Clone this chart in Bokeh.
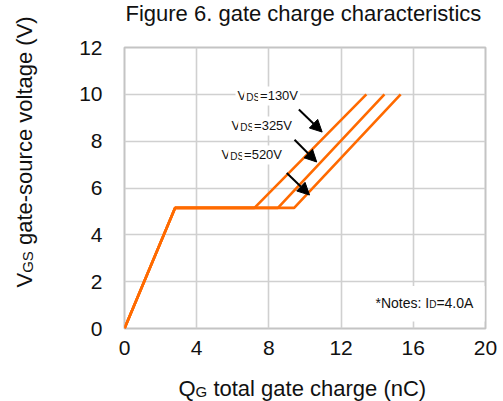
import math

from bokeh.embed import file_html
from bokeh.models import Arrow, BoxAnnotation, Label, NormalHead
from bokeh.plotting import figure
from bokeh.resources import INLINE

# Gate charge curves: QG (nC) against VGS (V) for three drain-source voltages
vgs = [0, 5.15, 5.15, 10]
qg_130v = [0, 2.8, 7.2, 13.4]
qg_325v = [0, 2.8, 8.5, 14.4]
qg_520v = [0, 2.8, 9.4, 15.3]
vds_labels = ["130V", "325V", "520V"]

x_ticks = [0, 4, 8, 12, 16, 20]
y_ticks = [0, 2, 4, 6, 8, 10, 12]

FONT = "Liberation Sans"
ORANGE = "#ff6a00"
GRID = "#d0d0d0"
INK = "#111111"

# Arial / Liberation Sans advance widths (per 1000 em) for composing mixed-size text
ADV = {
    "V": 667, "D": 722, "S": 667, "G": 778, "Q": 778, "I": 278, "N": 722,
    "A": 667, "F": 611, "C": 722, "=": 584, " ": 278, "(": 333, ")": 333,
    "-": 333, "*": 389, ":": 278, ".": 278, "a": 556, "c": 500, "e": 556,
    "g": 556, "h": 556, "i": 222, "l": 222, "n": 556, "o": 556, "r": 333,
    "s": 500, "t": 278, "u": 556, "v": 500,
}
for d in "0123456789":
    ADV[d] = 556

# Labels drawn with an alphabetic baseline sit about this fraction of the
# font size below their anchor; the anchors are raised by it so that pieces
# of different sizes share one baseline.
BASE_SHIFT = 0.35


def text_width(s, size):
    return sum(ADV.get(ch, 556) for ch in s) * size / 1000.0


p = figure(
    width=503, height=401,
    x_range=(0, 20), y_range=(0, 12),
    output_backend="svg", toolbar_location=None,
    min_border_left=124, min_border_right=18,
    min_border_top=47, min_border_bottom=73,
    background_fill_color="white", border_fill_color="white",
)
p.title.visible = False

p.outline_line_color = "#c4c4c4"
p.outline_line_width = 2

for ax in (p.xaxis, p.yaxis):
    ax.axis_line_color = None
    ax.major_tick_line_color = None
    ax.minor_tick_line_color = None
    ax.major_label_text_font = FONT
    ax.major_label_text_font_size = "21px"
    ax.major_label_text_color = INK
p.xaxis.ticker = x_ticks
p.yaxis.ticker = y_ticks
p.xaxis.major_label_standoff = 6
p.yaxis.major_label_standoff = 16

p.xgrid.ticker = x_ticks
p.ygrid.ticker = y_ticks
p.grid.grid_line_color = GRID
p.grid.grid_line_width = 1.6

# Curves
for qg in (qg_130v, qg_325v, qg_520v):
    p.line(qg, vgs, line_color=ORANGE, line_width=2.6)

# Arrows pointing at each curve
arrows = [
    ((9.66, 9.35), (10.95, 8.39)),
    ((9.42, 8.06), (10.65, 7.11)),
    ((8.99, 6.64), (10.25, 5.70)),
]
for (xs, ys), (xe, ye) in arrows:
    p.add_layout(Arrow(
        x_start=xs, y_start=ys, x_end=xe, y_end=ye,
        line_color="black", line_width=2,
        end=NormalHead(size=12, fill_color="black", line_color="black"),
    ))


def label_piece(txt, size, **kw):
    return Label(
        text=txt, text_line_height=1.0,
        text_font=FONT, text_font_size=f"{size}px", text_color=INK,
        text_align="left", text_baseline="alphabetic", **kw,
    )


def frame_text(parts, dx, dy, bg=None):
    """A run of (text, size) pieces on one baseline, starting at a pixel
    offset (dx right, dy up) from the plot origin (0, 0)."""
    adv = 0.0
    for txt, size in parts:
        kw = dict(background_fill_color=bg, padding=2) if bg else {}
        p.add_layout(label_piece(txt, size, x=0, y=0, x_offset=dx + adv,
                                 y_offset=dy + BASE_SHIFT * size, **kw))
        adv += text_width(txt, size)


def canvas_text(parts, cx, cy, vertical=False):
    """A run of (text, size, panel) pieces on one baseline starting at canvas
    position (cx, cy); vertical runs read bottom to top."""
    adv = 0.0
    for txt, size, side in parts:
        if vertical:
            x, y = cx - BASE_SHIFT * size, cy - adv
        else:
            x, y = cx + adv, cy - BASE_SHIFT * size
        p.add_layout(label_piece(txt, size, x=x, y=y, x_units="canvas",
                                 y_units="canvas",
                                 angle=math.pi / 2 if vertical else 0.0), side)
        adv += text_width(txt, size)


# VDS annotations (offsets in pixels from the plot origin)
vds_pos = [(111, 228), (105, 198), (95, 169)]
for lab, (dx, dy) in zip(vds_labels, vds_pos):
    frame_text([("V", 13), ("DS", 10), ("=" + lab, 13)], dx, dy, bg="white")

# Notes box in the lower right corner
p.add_layout(BoxAnnotation(left=13.65, right=19.95, bottom=0.3, top=1.82,
                           fill_color="white", fill_alpha=1.0, line_color=None))
frame_text([("*Notes: I", 14), ("D", 10), ("=4.0A", 14)], 251, 21)

# Title and axis titles, shared out over the side panels around the frame
canvas_text([("Figure 6. gate charge characteristics", 22, "above")], 125, 21)
q_w = text_width("Q", 22)
g_w = text_width("G", 15)
sp_w = text_width(" ", 22)
canvas_text([("Q", 22, "left"), ("G", 15, "above")], 178, 396)
canvas_text([("total  gate charge (nC)", 22, "below")], 178 + q_w + g_w + sp_w, 396)
v_w = text_width("V", 22)
gs_w = text_width("GS", 15)
canvas_text([("V", 22, "left"), ("GS", 15, "right")], 32, 287, vertical=True)
canvas_text([("gate-source voltage (V)", 22, "left")], 32, 287 - v_w - gs_w - sp_w,
            vertical=True)

open("out.html", "w").write(file_html(p, INLINE))
